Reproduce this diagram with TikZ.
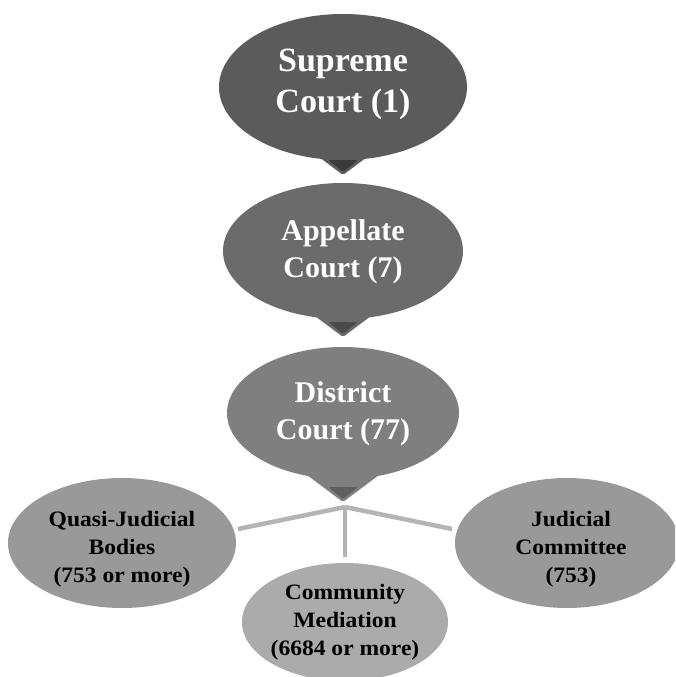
\documentclass[tikz,border=0pt]{standalone}
\usepackage{fontspec}
\setmainfont{Liberation Serif}
\newfontfamily\lowfont[FakeStretch=1.07]{Liberation Serif}
\usetikzlibrary{shapes.geometric}

\definecolor{supfill}{HTML}{5B5B5B}
\definecolor{supdark}{HTML}{3A3A3A}
\definecolor{appfill}{HTML}{6B6B6B}
\definecolor{appdark}{HTML}{4A4A4A}
\definecolor{disfill}{HTML}{7F7F7F}
\definecolor{disdark}{HTML}{5F5F5F}
\definecolor{lowfill}{HTML}{999999}
\definecolor{comfill}{HTML}{ABABAB}
\definecolor{linkgray}{HTML}{B4B4B4}

\tikzset{
  oval/.style={ellipse, draw=none, inner sep=0pt, outer sep=0pt},
  bigtext/.style 2 args={text=white, align=center, font=\bfseries\fontsize{#1}{#2}\selectfont},
  smalltext/.style={text=black, align=center, font=\lowfont\bfseries\fontsize{22}{28}\selectfont},
  link/.style={draw=linkgray, line width=4.5pt},
}

% pointer under a court oval: #1 colour, #2 dark colour, #3 x, #4 tip y
\newcommand{\courtpointer}[4]{%
  \fill[#1, rounded corners=2pt] (#3-48,#4-36) -- (#3+48,#4-36) -- (#3,#4) -- cycle;
  \fill[#2, rounded corners=1.5pt] (#3-15,#4-15) -- (#3+15,#4-15) -- (#3,#4-3) -- cycle;
}

\begin{document}
\begin{tikzpicture}[x=1pt,y=-1pt]
\useasboundingbox (0,0) rectangle (675,677);
\clip (0,0) rectangle (675,677);

% connectors below the district court
\coordinate (hub) at (345,507);
\coordinate (lend) at (238,529);
\coordinate (rend) at (452,529);
\coordinate (bend) at (345,557);
\draw[link] (hub) -- (lend);
\draw[link] (hub) -- (rend);
\draw[link] (hub) -- (bend);

% supreme court
\node[oval, fill=supfill, minimum width=248pt, minimum height=146pt] (sup) at (343,87) {};
\courtpointer{supfill}{supdark}{343}{175}
\node[bigtext={34}{41}] (suptext) at (343,84) {Supreme\\Court (1)};

% appellate court
\node[oval, fill=appfill, minimum width=240pt, minimum height=136pt] (app) at (343,251) {};
\courtpointer{appfill}{appdark}{343}{337}
\node[bigtext={30}{37}] (apptext) at (343,252) {Appellate\\Court (7)};

% district court
\node[oval, fill=disfill, minimum width=232pt, minimum height=132pt] (dis) at (343,413) {};
\courtpointer{disfill}{disdark}{343}{502}
\node[bigtext={30}{37}] (distext) at (343,414) {District\\Court (77)};

% lower bodies
\node[oval, fill=lowfill, minimum width=228pt, minimum height=130pt] (quasi) at (122,543) {};
\node[smalltext] (quasitext) at (122,549) {Quasi-Judicial\\Bodies\\(753 or more)};
\node[oval, fill=lowfill, minimum width=224pt, minimum height=130pt] (judc) at (567,543) {};
\node[smalltext] (judctext) at (571,549) {Judicial\\Committee\\(753)};
\node[oval, fill=comfill, minimum width=206pt, minimum height=118pt] (comm) at (345,622) {};
\node[smalltext] (commtext) at (345,622) {Community\\Mediation\\(6684 or more)};
\end{tikzpicture}
\end{document}
